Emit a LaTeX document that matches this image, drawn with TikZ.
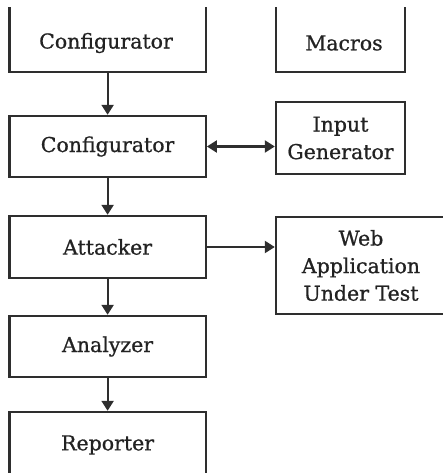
\documentclass[tikz,border=0pt]{standalone}
\usepackage{fontspec}
\setmainfont[FakeBold=0.8]{DejaVu Serif}
\usetikzlibrary{arrows.meta}
\definecolor{linec}{HTML}{2E2E2E}
\definecolor{textc}{HTML}{222222}
\tikzset{
  box/.style={draw=linec, line width=2.4pt, rectangle, inner sep=0pt,
    font=\fontsize{20.5}{27.5}\selectfont, text=textc, align=center},
  conn/.style={draw=linec, line width=2.2pt, -{Triangle[width=12pt,length=10pt]}},
  dconn/.style={draw=linec, line width=2.2pt, {Triangle[width=12pt,length=10pt]}-{Triangle[width=12pt,length=10pt]}},
  lab/.style={font=\fontsize{20.5}{27.5}\selectfont, text=textc, align=center}
}
\begin{document}
\begin{tikzpicture}[x=1pt,y=-1pt]
\useasboundingbox (0,0) rectangle (443,473);
\begin{scope}
\clip (0,8) rectangle (443,473);
\node[box, minimum width=196.2pt, minimum height=92pt,
  label={[lab, name=cfgat, yshift=-17pt, xshift=-1.6pt]center:Configurator}] (cfga) at (107.6,26) {};
\node[box, minimum width=129pt, minimum height=92pt,
  label={[lab, name=macrost, yshift=-17pt, xshift=3.5pt]center:Macros}] (macros) at (340.5,26) {};
\node[box, minimum width=196.2pt, minimum height=61pt] (cfgb) at (107.6,146.5) {Configurator};
\node[box, minimum width=129pt, minimum height=72pt] (inp) at (340.5,138) {Input\\Generator};
\node[box, minimum width=196.2pt, minimum height=62pt] (att) at (107.6,247) {Attacker};
\node[box, minimum width=170pt, minimum height=97pt] (web) at (361,265.5) {Web\\Application\\Under Test};
\node[box, minimum width=196.2pt, minimum height=61pt] (ana) at (107.6,346.5) {Analyzer};
\node[box, minimum width=196.2pt, minimum height=66pt] (rep) at (107.6,445) {Reporter};
\end{scope}
\draw[conn] (cfga.south) -- (cfgb.north);
\draw[dconn] (cfgb.east) -- (cfgb.east -| inp.west);
\draw[conn] (cfgb.south) -- (att.north);
\draw[conn] (att.east) -- (att.east -| web.west);
\draw[conn] (att.south) -- (ana.north);
\draw[conn] (ana.south) -- (rep.north);
\end{tikzpicture}
\end{document}
